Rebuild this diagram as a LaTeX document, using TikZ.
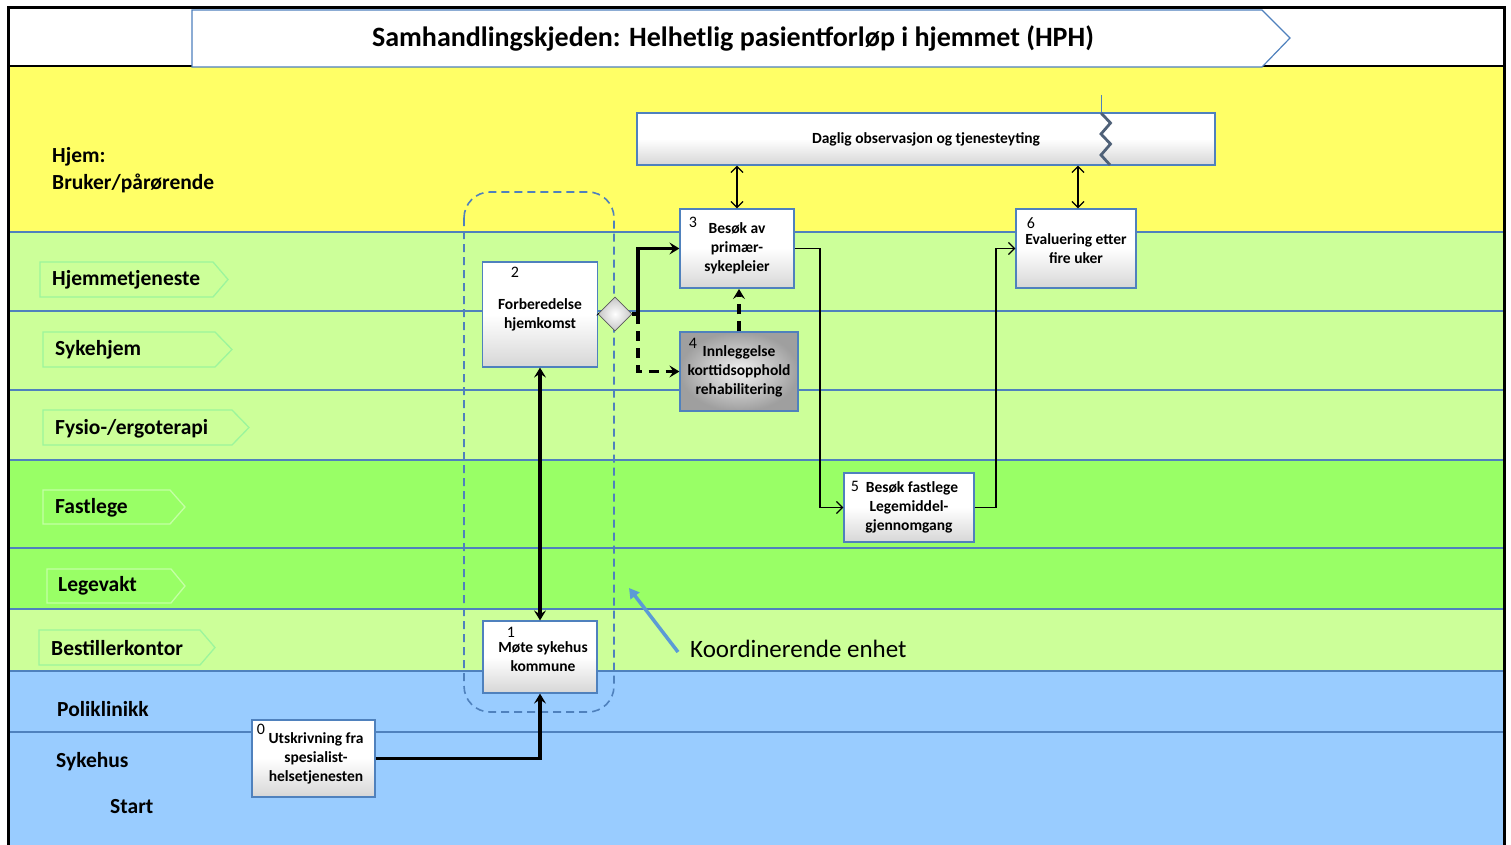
\documentclass[tikz,border=0pt]{standalone}
\usepackage{fontspec}
\setmainfont{Carlito}
\usetikzlibrary{arrows.meta,shapes.geometric}

\definecolor{laneyellow}{HTML}{FFFF66}
\definecolor{lanelight}{HTML}{CCFF99}
\definecolor{lanegreen}{HTML}{99FF66}
\definecolor{laneblue}{HTML}{99CCFF}
\definecolor{edgeblue}{HTML}{4F81BD}
\definecolor{tagedge}{HTML}{9CF59C}
\definecolor{tagedgepale}{HTML}{C4FFA4}
\definecolor{zigcol}{HTML}{4F6178}
\definecolor{pointercol}{HTML}{5B9BD5}

\begin{document}
\begin{tikzpicture}[x=1pt,y=-1pt,
  laneline/.style={draw=edgeblue,line width=1.6pt},
  tagshape/.style={draw=tagedge,line width=1.3pt},
  tagshapepale/.style={draw=tagedgepale,line width=1.3pt},
  tagtext/.style={anchor=west,inner sep=0,font=\bfseries\fontsize{21.5}{26}\selectfont},
  sidetext/.style={anchor=west,inner sep=0,font=\bfseries\fontsize{21.5}{26}\selectfont},
  stepbox/.style={draw=edgeblue,line width=1.2pt,top color=white,bottom color=gray!32,middle color=white,
    align=center,inner sep=0,font=\bfseries\fontsize{15.5}{19}\selectfont},
  darkbox/.style={draw=edgeblue,line width=1.2pt,shading=radial,inner color=gray!10,outer color=gray!75,
    align=center,inner sep=0,font=\bfseries\fontsize{15.5}{19}\selectfont},
  numtext/.style={inner sep=0,font=\fontsize{16}{18}\selectfont},
  boldtip/.tip={Stealth[length=10pt,width=12pt,inset=4pt]},
  thintip/.tip={Straight Barb[length=6pt,width=12pt]},
  flowthick/.style={draw=black,line width=3.2pt,-boldtip},
  flowthickboth/.style={draw=black,line width=3.2pt,boldtip-boldtip},
  flowdash/.style={draw=black,line width=3.2pt,dash pattern=on 10pt off 7pt,-boldtip},
  flowthin/.style={draw=black,line width=1.3pt,-thintip},
  flowboth/.style={draw=black,line width=1.3pt,thintip-thintip},
]
\useasboundingbox (0,0) rectangle (1511,845);

% swim lanes
\fill[white] (0,0) rectangle (1511,845);
\fill[laneyellow] (8,66) rectangle (1504,232);
\fill[lanelight] (8,232) rectangle (1504,460);
\fill[lanegreen] (8,460) rectangle (1504,609);
\fill[lanelight] (8,609) rectangle (1504,671);
\fill[laneblue] (8,671) rectangle (1504,845);
\foreach \yy in {232,311,390,460,548,609,671,732}
  \draw[laneline] (8,\yy) -- (1504,\yy);

% header and frame
\fill[white] (8,8) rectangle (1504,66);
\draw[black,line width=1.8pt] (8,66) -- (192,66) (1262,66) -- (1504,66);
\draw[edgeblue,line width=1.2pt,fill=white] (192,10) -- (1262,10) -- (1290,38) -- (1262,67) -- (192,67) -- cycle;
\node[font=\bfseries\fontsize{28}{32}\selectfont] (title) at (733,38) {Samhandlingskjeden: Helhetlig pasientforløp i hjemmet (HPH)};
\draw[black,line width=3pt] (8,846) -- (8,8) -- (1504,8) -- (1504,846);

% lane titles
\node[sidetext] (hjem) at (52,157) {Hjem:};
\node[sidetext] (bruker) at (52,183) {Bruker/pårørende};

\draw[tagshape] (40,262) -- (213,262) -- (228,279.5) -- (213,297) -- (40,297) -- cycle;
\node[tagtext] (tag1) at (52,280) {Hjemmetjeneste};
\draw[tagshape] (43,332) -- (215,332) -- (232,349.5) -- (215,367) -- (43,367) -- cycle;
\node[tagtext] (tag2) at (55,350) {Sykehjem};
\draw[tagshape] (43,410) -- (232,410) -- (249,427.5) -- (232,445) -- (43,445) -- cycle;
\node[tagtext] (tag3) at (55,429) {Fysio-/ergoterapi};
\draw[tagshapepale] (43,490) -- (170,490) -- (185,507) -- (170,524) -- (43,524) -- cycle;
\node[tagtext] (tag4) at (55,508) {Fastlege};
\draw[tagshapepale] (47,569) -- (171,569) -- (185,586) -- (171,603) -- (47,603) -- cycle;
\node[tagtext] (tag5) at (58,586) {Legevakt};
\draw[tagshape] (39,630) -- (200,630) -- (215,647.5) -- (200,665) -- (39,665) -- cycle;
\node[tagtext] (tag6) at (51,648) {Bestillerkontor};

\node[sidetext] (poli) at (57,709) {Poliklinikk};
\node[sidetext] (sykehus) at (56,762) {Sykehus};
\node[sidetext] (start) at (110,807) {Start};

% coordinating unit
\draw[edgeblue,line width=1.6pt,dash pattern=on 8pt off 5pt,rounded corners=26pt] (464,192) rectangle (614,712);

% daily observation bar
\node[stepbox,minimum width=578,minimum height=52] (daglig) at (926,139) {Daglig observasjon og tjenesteyting};
\draw[edgeblue,line width=0.8pt] (1101,95) -- (1101,113);
\draw[zigcol,line width=2.8pt,line join=miter] (1101,113) -- (1110.5,123) -- (1101,134) -- (1110.5,144) -- (1101,155) -- (1110,165);

% process steps
\node[stepbox,minimum width=115,minimum height=105] (b2) at (540,314.5) {Forberedelse\\hjemkomst};
\node[stepbox,minimum width=114,minimum height=79] (b3) at (737,248.5) {Besøk av\\primær-\\sykepleier};
\node[darkbox,minimum width=118,minimum height=79] (b4) at (739,371.5) {Innleggelse\\korttidsopphold\\rehabilitering};
\node[stepbox,minimum width=130,minimum height=69] (b5) at (909,507.5) {\hspace*{6pt}Besøk fastlege\\Legemiddel-\\gjennomgang};
\node[stepbox,minimum width=120,minimum height=79] (b6) at (1076,248.5) {Evaluering etter\\fire uker};
\node[stepbox,minimum width=114,minimum height=72] (b1) at (540,657) {\hspace*{6pt}Møte sykehus\\\hspace*{6pt}kommune};
\node[stepbox,minimum width=123,minimum height=77] (b0) at (313.5,758.5) {\hspace*{5pt}Utskrivning fra\\\hspace*{5pt}spesialist-\\\hspace*{5pt}helsetjenesten};
\node[draw=gray!70!black,line width=0.8pt,shape=diamond,aspect=1,minimum width=34,minimum height=34,inner sep=0,
  shading=radial,inner color=white,outer color=gray!45] (dm) at (615,314) {};

\node[numtext] (n0) at (261,729) {0};
\node[numtext] (n1) at (511,632) {1};
\node[numtext] (n2) at (515,272) {2};
\node[numtext] (n3) at (693,222) {3};
\node[numtext] (n4) at (693,343) {4};
\node[numtext] (n5) at (855,486) {5};
\node[numtext] (n6) at (1031,223) {6};

% connectors
\coordinate (split) at (638,314);
\coordinate (r1) at (820,0);
\coordinate (r2) at (996,0);
\coordinate (b3in) at (739,289);
\draw[flowthick] (b0.east) -| (b1.south);
\draw[flowthickboth] (b1.north) -- (b2.south);
\draw[draw=black,line width=3.2pt] (b2.east) -- (dm.west);
\draw[flowthick] (dm.east) -- (split) |- (b3.west);
\draw[flowdash] (split) |- (b4.west);
\draw[flowdash] (b4.north) -- (b3in);
\draw[flowboth] (b3.north) -- (b3.north |- daglig.south);
\draw[flowboth] ([xshift=2pt]b6.north) -- ([xshift=2pt]b6.north |- daglig.south);
\draw[flowthin] (b3.east) -| (r1 |- b5.west) -- (b5.west);
\draw[flowthin] (b5.east) -| (r2 |- b6.west) -- (b6.west);

% label for the coordinating unit
\node[anchor=west,inner sep=0,font=\fontsize{25}{30}\selectfont] (koord) at (690,649) {Koordinerende enhet};
\coordinate (ktip) at (629,588);
\draw[pointercol,line width=3.5pt,-{Triangle[length=10pt,width=11pt]}] ([xshift=-12pt,yshift=-3pt]koord.west) -- (ktip);
\end{tikzpicture}
\end{document}
